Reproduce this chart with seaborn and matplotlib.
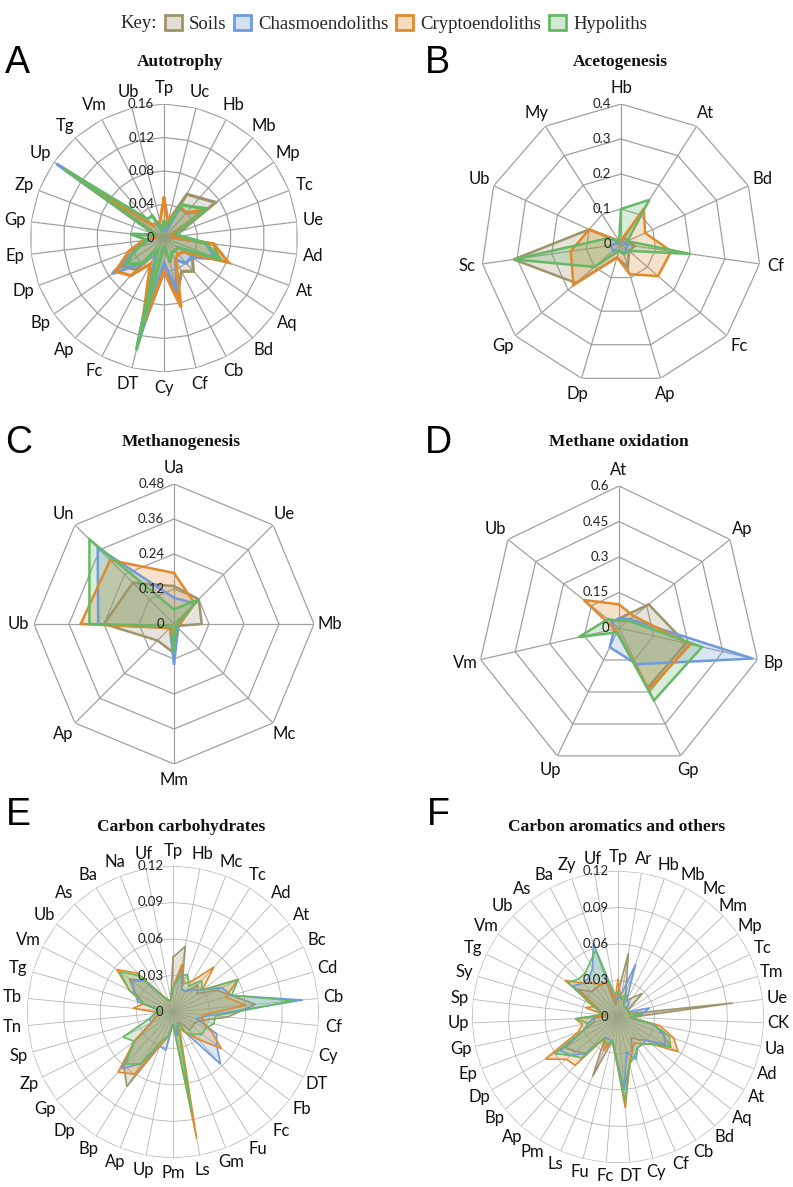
import numpy as np
import matplotlib
matplotlib.use('Agg')
import matplotlib.pyplot as plt
import seaborn as sns
from matplotlib.patches import Patch

sns.set_theme(style='white')
plt.rcParams['font.family'] = ['Lato', 'DejaVu Sans']

groups = ['Soils', 'Chasmoendoliths', 'Cryptoendoliths', 'Hypoliths']
colors = ['#9E946C', '#6F9BDB', '#E08A2E', '#66B866']

# A - Autotrophy
auto_cats = ['Tp', 'Uc', 'Hb', 'Mb', 'Mp', 'Tc', 'Ue', 'Ad', 'At', 'Aq', 'Bd', 'Cb', 'Cf',
             'Cy', 'DT', 'Fc', 'Ap', 'Bp', 'Dp', 'Ep', 'Gp', 'Zp', 'Up', 'Tg', 'Vm', 'Ub']
auto_soils = [0.01, 0.02, 0.059, 0.064, 0.075, 0.02, 0.01, 0.06, 0.07, 0.041, 0.053, 0.045, 0.068,
              0.04, 0.12, 0.02, 0.05, 0.06, 0.035, 0.02, 0.01, 0.01, 0.12, 0.02, 0.02, 0.015]
auto_chasmo = [0.01, 0.01, 0.04, 0.04, 0.055, 0.01, 0.01, 0.05, 0.065, 0.04, 0.04, 0.03, 0.065,
               0.03, 0.13, 0.02, 0.04, 0.075, 0.035, 0.02, 0.01, 0.01, 0.156, 0.02, 0.02, 0.01]
auto_crypto = [0.048, 0.02, 0.042, 0.04, 0.06, 0.01, 0.01, 0.06, 0.082, 0.03, 0.025, 0.03, 0.085,
               0.04, 0.11, 0.035, 0.06, 0.07, 0.045, 0.025, 0.01, 0.01, 0.13, 0.02, 0.02, 0.02]
auto_hypo = [0.02, 0.015, 0.045, 0.05, 0.062, 0.015, 0.02, 0.05, 0.073, 0.02, 0.02, 0.02, 0.03,
             0.01, 0.138, 0.015, 0.04, 0.055, 0.035, 0.02, 0.04, 0.01, 0.145, 0.03, 0.03, 0.01]

# B - Acetogenesis
aceto_cats = ['Hb', 'At', 'Bd', 'Cf', 'Fc', 'Ap', 'Dp', 'Gp', 'Sc', 'Ub', 'My']
aceto_soils = [0.01, 0.02, 0.02, 0.04, 0.03, 0.07, 0.04, 0.17, 0.31, 0.10, 0.01]
aceto_chasmo = [0.01, 0.01, 0.01, 0.02, 0.02, 0.03, 0.02, 0.03, 0.03, 0.01, 0.01]
aceto_crypto = [0.01, 0.12, 0.076, 0.145, 0.14, 0.09, 0.04, 0.18, 0.145, 0.10, 0.01]
aceto_hypo = [0.10, 0.15, 0.02, 0.20, 0.03, 0.03, 0.02, 0.10, 0.31, 0.04, 0.01]

# C - Methanogenesis
metha_cats = ['Ua', 'Ue', 'Mb', 'Mc', 'Mm', 'Ap', 'Ub', 'Un']
metha_soils = [0.13, 0.12, 0.095, 0.01, 0.10, 0.08, 0.24, 0.20]
metha_chasmo = [0.09, 0.10, 0.02, 0.02, 0.14, 0.02, 0.26, 0.37]
metha_crypto = [0.175, 0.10, 0.02, 0.01, 0.07, 0.02, 0.32, 0.31]
metha_hypo = [0.05, 0.12, 0.01, 0.01, 0.10, 0.01, 0.29, 0.41]

# D - Methane oxidation
mox_cats = ['At', 'Ap', 'Bp', 'Gp', 'Up', 'Vm', 'Ub']
mox_soils = [0.04, 0.16, 0.29, 0.28, 0.02, 0.02, 0.04]
mox_chasmo = [0.04, 0.06, 0.58, 0.17, 0.09, 0.02, 0.04]
mox_crypto = [0.10, 0.08, 0.31, 0.29, 0.02, 0.02, 0.19]
mox_hypo = [0.03, 0.05, 0.36, 0.34, 0.02, 0.175, 0.06]

# E - Carbon carbohydrates
carb_cats = ['Tp', 'Hb', 'Mc', 'Tc', 'Ad', 'At', 'Bc', 'Cd', 'Cb', 'Cf', 'Cy', 'DT', 'Fb', 'Fc',
             'Fu', 'Gm', 'Ls', 'Pm', 'Up', 'Ap', 'Bp', 'Dp', 'Gp', 'Zp', 'Sp', 'Tn', 'Tb', 'Tg',
             'Vm', 'Ub', 'As', 'Ba', 'Na', 'Uf']
carb_soils = [0.045, 0.055, 0.02, 0.02, 0.03, 0.025, 0.04, 0.05, 0.068, 0.045, 0.025, 0.02, 0.02,
              0.02, 0.01, 0.01, 0.02, 0.01, 0.02, 0.03, 0.072, 0.06, 0.04, 0.02, 0.015, 0.01,
              0.01, 0.025, 0.035, 0.045, 0.035, 0.015, 0.01, 0.01]
carb_chasmo = [0.02, 0.037, 0.02, 0.02, 0.025, 0.03, 0.045, 0.05, 0.107, 0.03, 0.02, 0.04, 0.045,
               0.058, 0.02, 0.01, 0.02, 0.01, 0.032, 0.03, 0.05, 0.063, 0.04, 0.02, 0.02, 0.015,
               0.01, 0.03, 0.035, 0.042, 0.035, 0.015, 0.01, 0.01]
carb_crypto = [0.02, 0.04, 0.025, 0.03, 0.05, 0.03, 0.06, 0.045, 0.06, 0.025, 0.025, 0.035, 0.05,
               0.03, 0.02, 0.015, 0.106, 0.01, 0.02, 0.03, 0.06, 0.067, 0.04, 0.02, 0.015, 0.01,
               0.033, 0.025, 0.04, 0.058, 0.043, 0.015, 0.01, 0.01]
carb_hypo = [0.02, 0.03, 0.033, 0.025, 0.035, 0.03, 0.06, 0.05, 0.10, 0.035, 0.035, 0.03, 0.03,
             0.025, 0.02, 0.01, 0.085, 0.01, 0.02, 0.025, 0.05, 0.058, 0.04, 0.046, 0.02, 0.015,
             0.01, 0.025, 0.04, 0.055, 0.04, 0.015, 0.01, 0.01]

# F - Carbon aromatics and others
arom_cats = ['Tp', 'Ar', 'Hb', 'Mb', 'Mc', 'Mm', 'Mp', 'Tc', 'Tm', 'Ue', 'CK', 'Ua', 'Ad', 'At',
             'Aq', 'Bd', 'Cb', 'Cf', 'Cy', 'DT', 'Fc', 'Fu', 'Ls', 'Pm', 'Ap', 'Bp', 'Dp', 'Ep',
             'Gp', 'Up', 'Sp', 'Sy', 'Tg', 'Vm', 'Ub', 'As', 'Ba', 'Zy', 'Uf']
arom_soils = [0.02, 0.053, 0.02, 0.015, 0.02, 0.028, 0.01, 0.01, 0.01, 0.095, 0.01, 0.03, 0.04,
              0.05, 0.03, 0.025, 0.02, 0.03, 0.04, 0.06, 0.03, 0.02, 0.053, 0.02, 0.04, 0.045,
              0.05, 0.03, 0.02, 0.02, 0.01, 0.015, 0.02, 0.04, 0.03, 0.03, 0.03, 0.03, 0.01]
arom_chasmo = [0.015, 0.02, 0.046, 0.015, 0.015, 0.01, 0.01, 0.01, 0.027, 0.02, 0.01, 0.03, 0.04,
               0.045, 0.03, 0.03, 0.03, 0.038, 0.03, 0.06, 0.03, 0.02, 0.02, 0.02, 0.04, 0.05,
               0.055, 0.03, 0.025, 0.02, 0.015, 0.015, 0.025, 0.045, 0.04, 0.04, 0.045, 0.064, 0.015]
arom_crypto = [0.031, 0.015, 0.015, 0.01, 0.01, 0.01, 0.01, 0.01, 0.01, 0.01, 0.01, 0.035, 0.049,
               0.057, 0.035, 0.03, 0.025, 0.03, 0.04, 0.075, 0.03, 0.02, 0.03, 0.02, 0.053, 0.055,
               0.069, 0.035, 0.03, 0.035, 0.01, 0.028, 0.02, 0.053, 0.04, 0.035, 0.03, 0.03, 0.015]
arom_hypo = [0.02, 0.015, 0.02, 0.01, 0.01, 0.01, 0.01, 0.01, 0.01, 0.02, 0.01, 0.03, 0.045,
             0.05, 0.035, 0.03, 0.03, 0.035, 0.04, 0.07, 0.03, 0.02, 0.025, 0.02, 0.045, 0.05,
             0.06, 0.03, 0.025, 0.035, 0.015, 0.015, 0.025, 0.05, 0.045, 0.045, 0.05, 0.058, 0.02]

W, H = 793, 1187
fig = plt.figure(figsize=(W / 100, H / 100), dpi=100)


def radar(cx, cy, R, cats, series, rmax, step, ticklabels, lw, glw, gcol, lab_off):
    ax = fig.add_axes([(cx - R) / W, 1 - (cy + R) / H, 2 * R / W, 2 * R / H], projection='polar')
    ax.set_theta_zero_location('N')
    ax.set_theta_direction(-1)
    ax.set_ylim(0, rmax)
    ax.grid(False)
    ax.set_xticks([])
    ax.set_yticks([])
    ax.spines['polar'].set_visible(False)
    ax.patch.set_alpha(0)
    n = len(cats)
    theta = np.arange(n) * 2 * np.pi / n
    tt = np.append(theta, theta[0])
    levels = np.arange(1, len(ticklabels)) * step
    for lev in levels:
        ax.plot(tt, np.full(n + 1, lev), color=gcol, lw=glw, zorder=1)
    for t in theta:
        ax.plot([t, t], [0, rmax], color=gcol, lw=glw, zorder=1)
    for vals, c in zip(series, colors):
        v = np.append(vals, vals[0])
        ax.fill(tt, v, color=c, alpha=0.25, lw=0, zorder=2)
        ax.plot(tt, v, color=c, lw=lw, zorder=3, solid_joinstyle='miter')
    for i, lab in enumerate(ticklabels):
        ax.annotate(lab, xy=(0, i * step), xytext=(-7, 0), textcoords='offset points',
                    ha='right', va='center', fontsize=9.5, color='#222222', zorder=4)
    for t, lab in zip(theta, cats):
        ax.text(t, rmax * (1 + lab_off / R), lab, ha='center', va='center', fontsize=12,
                color='#111111')
    return ax


panels = [
    ('A', 'Autotrophy', 17, 63, 180, 62, 164, 238, 134, auto_cats,
     [auto_soils, auto_chasmo, auto_crypto, auto_hypo], 0.16, 0.04,
     ['0', '0.04', '0.08', '0.12', '0.16'], 2.3, 0.9, '#A0A0A0', 16),
    ('B', 'Acetogenesis', 437, 63, 620, 62, 621, 244, 140, aceto_cats,
     [aceto_soils, aceto_chasmo, aceto_crypto, aceto_hypo], 0.4, 0.1,
     ['0', '0.1', '0.2', '0.3', '0.4'], 1.8, 0.9, '#A0A0A0', 16),
    ('C', 'Methanogenesis', 19, 443, 181, 442, 174, 624, 140, metha_cats,
     [metha_soils, metha_chasmo, metha_crypto, metha_hypo], 0.48, 0.12,
     ['0', '0.12', '0.24', '0.36', '0.48'], 1.8, 0.9, '#A0A0A0', 16),
    ('D', 'Methane oxidation', 438, 443, 619, 442, 619, 628, 142, mox_cats,
     [mox_soils, mox_chasmo, mox_crypto, mox_hypo], 0.6, 0.15,
     ['0', '0.15', '0.3', '0.45', '0.6'], 1.8, 0.9, '#A0A0A0', 16),
    ('E', 'Carbon carbohydrates', 18, 815, 181, 827, 173, 1012, 146, carb_cats,
     [carb_soils, carb_chasmo, carb_crypto, carb_hypo], 0.12, 0.03,
     ['0', '0.03', '0.06', '0.09', '0.12'], 1.2, 0.6, '#B5B5B5', 15),
    ('F', 'Carbon aromatics and others', 438, 815, 617, 827, 618, 1017, 146, arom_cats,
     [arom_soils, arom_chasmo, arom_crypto, arom_hypo], 0.12, 0.03,
     ['0', '0.03', '0.06', '0.09', '0.12'], 1.2, 0.6, '#B5B5B5', 14),
]

for (letter, title, lx, ly, tx, ty, cx, cy, R, cats, series, rmax, step, tl, lw, glw, gcol,
     off) in panels:
    radar(cx, cy, R, cats, series, rmax, step, tl, lw, glw, gcol, off)
    fig.text(lx / W, 1 - ly / H, letter, ha='center', va='center', fontsize=27,
             family='Liberation Sans', color='black')
    fig.text(tx / W, 1 - ty / H, title, ha='center', va='center', fontsize=12.5,
             family='Liberation Serif', fontweight='bold', color='#111111')

handles = []
for c in colors:
    handles.append(Patch(facecolor=matplotlib.colors.to_rgba(c, 0.3), edgecolor=c, lw=2))
fig.text(157 / W, 1 - 24 / H, 'Key:', ha='right', va='center', fontsize=13.5,
         family='Liberation Serif')
fig.legend(handles, groups, loc='center', bbox_to_anchor=(406 / W, 1 - 24 / H), ncol=4,
           frameon=False, handlelength=0.9, handleheight=0.9, handletextpad=0.4,
           columnspacing=0.4, borderpad=0, prop={'family': 'Liberation Serif', 'size': 13.5})

fig.savefig('out.png', dpi=100)
